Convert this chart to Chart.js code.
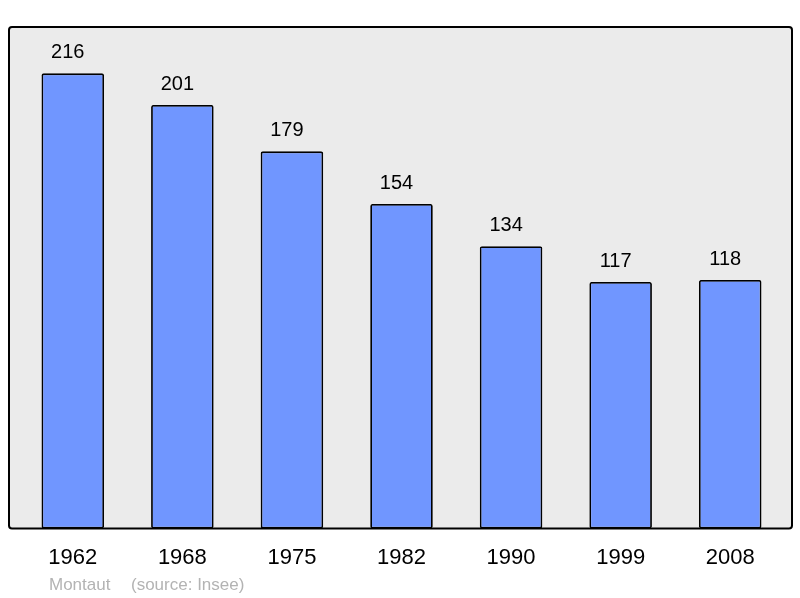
<!DOCTYPE html>
<html>
<head>
<meta charset="utf-8">
<script src="https://cdn.jsdelivr.net/npm/chart.js@4.4.0/dist/chart.umd.min.js"></script>
<style>
  html, body { margin: 0; padding: 0; background: #fff; }
  #wrap { width: 800px; height: 598px; position: relative; }
</style>
</head>
<body>
<div id="wrap"><canvas id="chart"></canvas></div>
<script>
const years = ['1962', '1968', '1975', '1982', '1990', '1999', '2008'];
const population = [216, 201, 179, 154, 134, 117, 118];
const townName = 'Montaut';
const sourceNote = '(source: Insee)';

// grey panel with black rounded border behind the bars
const framePlugin = {
  id: 'frame',
  beforeDraw(chart) {
    const { ctx, chartArea } = chart;
    ctx.save();
    ctx.fillStyle = '#ebebeb';
    ctx.beginPath();
    ctx.roundRect(chartArea.left - 9, chartArea.top, chartArea.width + 16, chartArea.height, 3);
    ctx.fill();
    ctx.restore();
  },
  afterDraw(chart) {
    const { ctx, chartArea } = chart;
    ctx.save();
    ctx.strokeStyle = '#000';
    ctx.lineWidth = 2;
    ctx.beginPath();
    ctx.roundRect(chartArea.left - 9, chartArea.top, chartArea.width + 16, chartArea.height, 3);
    ctx.stroke();
    // footer
    ctx.fillStyle = '#b3b3b3';
    ctx.font = '17px "Liberation Sans", Arial, sans-serif';
    ctx.textAlign = 'left';
    ctx.textBaseline = 'alphabetic';
    ctx.fillText(townName, chartArea.left + 31, chart.height - 8);
    ctx.fillText(sourceNote, chartArea.left + 113, chart.height - 8);
    ctx.restore();
  }
};

// numbers above each bar
const valueLabels = {
  id: 'valueLabels',
  afterDatasetsDraw(chart) {
    const { ctx } = chart;
    const meta = chart.getDatasetMeta(0);
    ctx.save();
    ctx.fillStyle = '#000';
    ctx.font = '20px "Liberation Sans", Arial, sans-serif';
    ctx.textAlign = 'center';
    ctx.textBaseline = 'alphabetic';
    meta.data.forEach((bar, i) => {
      ctx.fillText(population[i], bar.x - 5, bar.y - 15);
    });
    ctx.restore();
  }
};

new Chart(document.getElementById('chart'), {
  type: 'bar',
  data: {
    labels: years,
    datasets: [{
      data: population,
      backgroundColor: '#7096ff',
      borderColor: '#000',
      borderWidth: 1.8,
      borderRadius: 2,
      borderSkipped: false,
      barPercentage: 0.571,
      categoryPercentage: 1
    }]
  },
  options: {
    responsive: true,
    maintainAspectRatio: false,
    animation: false,
    layout: { padding: { left: 18, right: 15, top: 27, bottom: 18 } },
    plugins: {
      legend: { display: false },
      tooltip: { enabled: false },
      title: { display: false }
    },
    scales: {
      x: {
        grid: { display: false },
        border: { display: false },
        ticks: {
          color: '#000',
          padding: 8.5,
          font: { family: '"Liberation Sans", Arial, sans-serif', size: 22 }
        }
      },
      y: {
        display: false,
        min: 0,
        max: 238
      }
    }
  },
  plugins: [framePlugin, valueLabels]
});
</script>
</body>
</html>
